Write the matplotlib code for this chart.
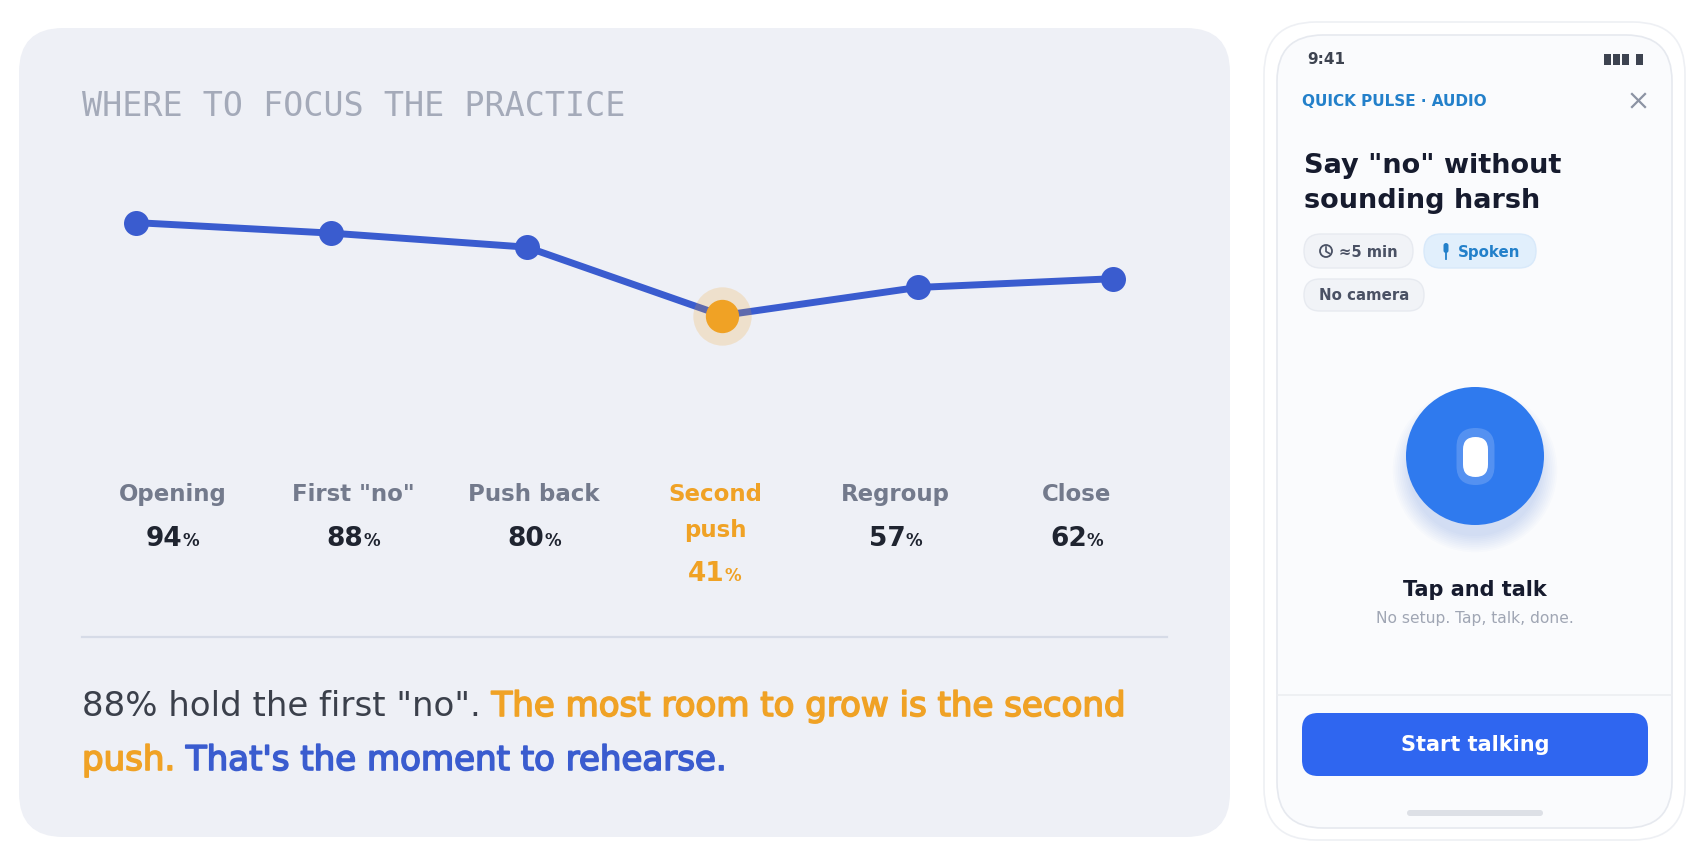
import matplotlib
matplotlib.use("Agg")
import matplotlib.pyplot as plt
from matplotlib.patches import FancyBboxPatch, Circle, Rectangle
import matplotlib.patheffects as pe

#=============== data ===============
stages = ['Opening', 'First "no"', 'Push back', 'Second\npush', 'Regroup', 'Close']
scores = [94, 88, 80, 41, 57, 62]
focus = 3

title = 'WHERE TO FOCUS THE PRACTICE'
summary_line1 = [('88% hold the first "no". ', 'gray'),
                 ('The most room to grow is the second', 'orange')]
summary_line2 = [('push. ', 'orange'),
                 ("That's the moment to rehearse.", 'blue')]

phone_tag = 'QUICK PULSE · AUDIO'
phone_title = ['Say "no" without', 'sounding harsh']
chips = ['≈5 min', 'Spoken', 'No camera']

#=============== style ===============
W, H = 1694, 856
BLUE = '#3A5CCF'
ORANGE = '#F0A225'
CARD = '#EEF0F6'
LABEL = '#737A8C'
DARK = '#1F2430'
INK = '#161B2E'
colors = {'gray': '#3B404B', 'orange': ORANGE, 'blue': BLUE}

plt.rcParams['font.family'] = ['DejaVu Sans']

fig = plt.figure(figsize=(W / 100, H / 100), dpi=100)
fig.patch.set_facecolor('white')
ax = fig.add_axes([0, 0, 1, 1])
ax.set_xlim(0, W)
ax.set_ylim(H, 0)
ax.axis('off')
renderer = fig.canvas.get_renderer()


def rbox(x, y, w, h, r, fc, ec='none', lw=1, z=1, alpha=1):
    p = FancyBboxPatch((x, y), w, h, boxstyle='round,pad=0,rounding_size=%s' % r,
                       fc=fc, ec=ec, lw=lw, zorder=z, alpha=alpha)
    ax.add_patch(p)
    return p


def width_of(t):
    return t.get_window_extent(renderer).width


def runs(x0, y, parts, **kw):
    x = x0
    for txt, c in parts:
        effects = []
        if c != 'gray':
            effects = [pe.withStroke(linewidth=1.2, foreground=colors[c])]
        t = ax.text(x, y, txt, color=colors[c], va='baseline', ha='left',
                    path_effects=effects, **kw)
        x += width_of(t)


#=============== left card ===============
rbox(19, 28, 1211, 809, 44, CARD)
ax.text(82, 106, title, family='DejaVu Sans Mono', fontsize=24,
        color='#A4AAB9', va='center', ha='left')

# line chart on its own axes
y0_px, y100_px = 387.4, 212.1
ax_line = fig.add_axes([136 / W, (H - y0_px) / H, 977 / W, (y0_px - y100_px) / H])
ax_line.set_xlim(0, len(scores) - 1)
ax_line.set_ylim(0, 100)
ax_line.set_facecolor('none')
ax_line.axis('off')
xs = list(range(len(scores)))
ax_line.plot(xs, scores, color=BLUE, lw=5, solid_capstyle='round',
             solid_joinstyle='round', zorder=2, clip_on=False)
others = [i for i in xs if i != focus]
ax_line.plot(others, [scores[i] for i in others], 'o', color=BLUE, ms=18,
             mec='none', zorder=3, clip_on=False)
ax_line.plot([focus], [scores[focus]], 'o', color=ORANGE, ms=42, alpha=0.2,
             mec='none', zorder=3, clip_on=False)
ax_line.plot([focus], [scores[focus]], 'o', color=ORANGE, ms=24,
             mec='none', zorder=4, clip_on=False)

# stage labels and values
col_w = (1167 - 82) / len(stages)
for i, name in enumerate(stages):
    cx = 82 + (i + 0.5) * col_w
    c_name = ORANGE if i == focus else LABEL
    c_val = ORANGE if i == focus else DARK
    lines = name.split('\n')
    for k, ln in enumerate(lines):
        ax.text(cx, 494 + k * 36, ln, ha='center', va='center', fontsize=16.5,
                fontweight='bold', color=c_name)
    base = 546 + (len(lines) - 1) * 35
    tn = ax.text(0, base, str(scores[i]), fontsize=19, fontweight='bold',
                 color=c_val, va='baseline', ha='left')
    tp = ax.text(0, base, '%', fontsize=12, fontweight='bold',
                 color=c_val, va='baseline', ha='left')
    wn, wp = width_of(tn), width_of(tp)
    start = cx - (wn + wp) / 2
    tn.set_x(start)
    tp.set_x(start + wn)

ax.plot([82, 1167], [637, 637], color='#D6DBE7', lw=1.6, zorder=2)

runs(82, 716, summary_line1, fontsize=24.5)
runs(82, 770, summary_line2, fontsize=24.5)

#=============== phone panel ===============
rbox(1264, 22, 421, 818, 52, 'white', ec='#EEF0F4', lw=1.2)
rbox(1277, 35, 395, 793, 46, '#FAFBFD', ec='#E6E9EF', lw=1.2, z=2)

ax.text(1307, 59, '9:41', fontsize=11, fontweight='bold', color='#3D4350',
        va='center', ha='left', zorder=5)
for bx in (1604, 1613, 1622, 1636):
    ax.add_patch(Rectangle((bx, 54), 6.5, 11, fc='#3D4350', ec='none', zorder=5))

ax.text(1302, 101, phone_tag, fontsize=11, fontweight='bold', color='#2380CA',
        va='center', ha='left', zorder=5)
ax.plot([1632, 1645], [94, 107], color='#8C93A3', lw=1.6, zorder=5)
ax.plot([1632, 1645], [107, 94], color='#8C93A3', lw=1.6, zorder=5)

for k, ln in enumerate(phone_title):
    ax.text(1304, 166 + k * 35, ln, fontsize=19.5, fontweight='bold', color=INK,
            va='center', ha='left', zorder=5)

# chips
rbox(1304, 234, 109, 34, 17, '#F1F3F7', ec='#E7EAF0', z=3)
rbox(1424, 234, 112, 34, 17, '#E1EFFC', ec='#D8E9FA', z=3)
rbox(1304, 279, 120, 32, 16, '#F1F3F7', ec='#E7EAF0', z=3)
ax.add_patch(Circle((1326, 251), 6, fc='none', ec='#4A5164', lw=1.3, zorder=5))
ax.plot([1326, 1326, 1329.5], [247, 251.5, 253.5], color='#4A5164', lw=1.2, zorder=5)
ax.text(1339, 252, chips[0], fontsize=10.6, fontweight='bold', color='#4A5164',
        va='center', ha='left', zorder=5)
rbox(1443.5, 243, 5, 10, 2.5, '#2380CA', z=5)
ax.plot([1446, 1446], [253, 259], color='#2380CA', lw=1.3, zorder=5)
ax.text(1458, 252, chips[1], fontsize=10.8, fontweight='bold', color='#2380CA',
        va='center', ha='left', zorder=5)
ax.text(1364, 296, chips[2], fontsize=10.8, fontweight='bold', color='#4A5164',
        va='center', ha='center', zorder=5)

# mic button with a soft shadow underneath
for k in range(10):
    ax.add_patch(Circle((1475, 470), 66 + k * 1.8, fc='#3A6CF0', ec='none',
                        alpha=0.02, zorder=3))
ax.add_patch(Circle((1475, 456), 69, fc='#2F7AEE', ec='none', zorder=4))
rbox(1456.5, 428, 38, 57, 19, 'white', z=5, alpha=0.18)
rbox(1463, 437, 25, 40, 12.5, 'white', z=6)

ax.text(1475, 590, 'Tap and talk', fontsize=15, fontweight='bold', color=INK,
        va='center', ha='center', zorder=5)
ax.text(1475, 618, 'No setup. Tap, talk, done.', fontsize=11.2, color='#A0A6B4',
        va='center', ha='center', zorder=5)

ax.plot([1277, 1672], [695, 695], color='#ECEEF2', lw=1.2, zorder=3)
rbox(1302, 713, 346, 63, 16, '#2F66F0', z=4)
ax.text(1475, 745, 'Start talking', fontsize=15, fontweight='bold', color='white',
        va='center', ha='center', zorder=5)
rbox(1407, 810, 136, 6, 3, '#DDE0E6', z=4)

fig.savefig('out.png', dpi=100, facecolor='white')
